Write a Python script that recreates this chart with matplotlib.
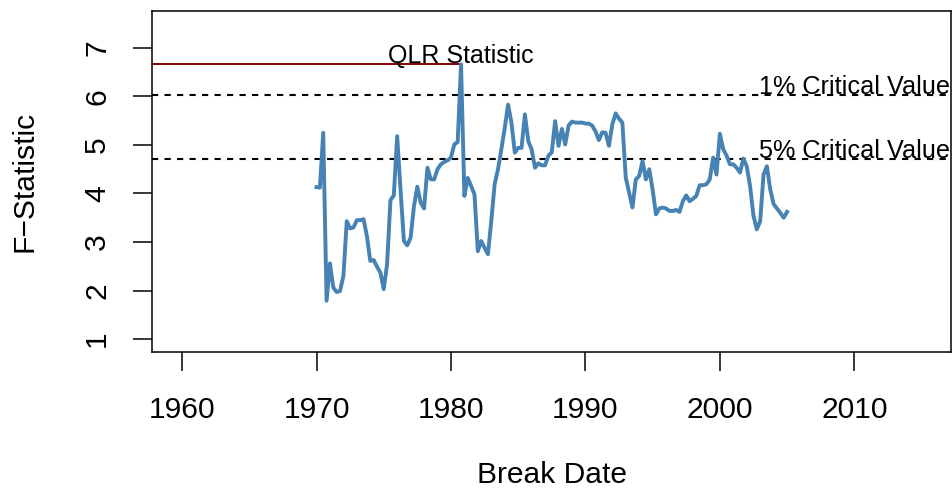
import matplotlib
matplotlib.use("Agg")
import matplotlib.pyplot as plt
import numpy as np

# QLR test: F-statistics for each quarterly break date, 1970:Q1 - 2005:Q1
start_year = 1970
f_stats = [
    4.13, 4.12, 5.25, 1.79,  # 1970
    2.56, 2.06, 1.97, 1.99,  # 1971
    2.30, 3.43, 3.28, 3.30,  # 1972
    3.45, 3.45, 3.47, 3.12,  # 1973
    2.61, 2.63, 2.49, 2.37,  # 1974
    2.03, 2.54, 3.86, 3.96,  # 1975
    5.18, 4.08, 3.02, 2.93,  # 1976
    3.09, 3.74, 4.14, 3.81,  # 1977
    3.69, 4.53, 4.29, 4.29,  # 1978
    4.50, 4.60, 4.65, 4.68,  # 1979
    4.74, 5.01, 5.06, 6.66,  # 1980
    3.95, 4.32, 4.15, 3.98,  # 1981
    2.81, 3.02, 2.88, 2.75,  # 1982
    3.43, 4.19, 4.50, 4.91,  # 1983
    5.35, 5.83, 5.46, 4.84,  # 1984
    4.94, 4.94, 5.63, 5.08,  # 1985
    4.91, 4.53, 4.62, 4.58,  # 1986
    4.58, 4.78, 4.85, 5.49,  # 1987
    4.98, 5.33, 5.01, 5.40,  # 1988
    5.48, 5.46, 5.46, 5.46,  # 1989
    5.44, 5.44, 5.40, 5.28,  # 1990
    5.10, 5.26, 5.25, 4.98,  # 1991
    5.42, 5.65, 5.54, 5.46,  # 1992
    4.33, 4.02, 3.71, 4.29,  # 1993
    4.36, 4.67, 4.29, 4.50,  # 1994
    4.08, 3.57, 3.69, 3.71,  # 1995
    3.69, 3.64, 3.64, 3.66,  # 1996
    3.62, 3.84, 3.96, 3.84,  # 1997
    3.89, 3.95, 4.17, 4.17,  # 1998
    4.19, 4.29, 4.74, 4.39,  # 1999
    5.23, 4.91, 4.78, 4.60,  # 2000
    4.60, 4.53, 4.43, 4.72,  # 2001
    4.56, 4.15, 3.54, 3.26,  # 2002
    3.43, 4.39, 4.56, 4.08,  # 2003
    3.78, 3.69, 3.60, 3.50,  # 2004
    3.62,                    # 2005
]
crit_values = [6.02, 4.71]
crit_labels = ["1% Critical Value", "5% Critical Value"]
x_ticks = [1960, 1970, 1980, 1990, 2000, 2010]
y_ticks = [1, 2, 3, 4, 5, 6, 7]

dates = start_year + np.arange(len(f_stats)) / 4
f_stats = np.array(f_stats)
qlr_idx = int(np.argmax(f_stats))
qlr_date = dates[qlr_idx]
qlr_value = f_stats[qlr_idx]

plt.rcParams["font.family"] = ["Liberation Sans", "DejaVu Sans"]

fig = plt.figure(figsize=(9.53, 4.91), dpi=100)
ax = fig.add_axes([0.160, 0.2837, 0.838, 0.694])

ax.plot(dates, f_stats, color="steelblue", lw=2.8, zorder=3)

# QLR statistic marker line
ax.hlines(qlr_value, 1957.0, qlr_date, color="darkred", lw=1.4, zorder=2)
ax.text(qlr_date, qlr_value + 0.03, "QLR Statistic", ha="center",
        va="baseline", fontsize=18.0)

# critical values
for cv, lab in zip(crit_values, crit_labels):
    ax.axhline(cv, color="black", lw=1.5, ls=(0, (3, 3)), zorder=2)
    ax.text(2010, cv + 0.02, lab, ha="center", va="baseline", fontsize=18.2)

ax.set_xlim(1957.8, 2017.2)
ax.set_ylim(0.74, 7.76)
ax.set_xticks(x_ticks)
ax.set_yticks(y_ticks)
ax.tick_params(axis="both", length=13.7, width=1.1, labelsize=21.6)
ax.tick_params(axis="x", pad=18)
ax.tick_params(axis="y", pad=16, labelrotation=90)
for lbl in ax.get_yticklabels():
    lbl.set_va("center")
for s in ax.spines.values():
    s.set_linewidth(1.1)

ax.set_xlabel("Break Date", fontsize=21.6, va="center")
ax.set_ylabel("F\u2212Statistic", fontsize=21.6, va="center")
ax.xaxis.set_label_coords(0.5, -0.362)
ax.yaxis.set_label_coords(-0.160, 0.5)

fig.savefig("out.png", dpi=100)
